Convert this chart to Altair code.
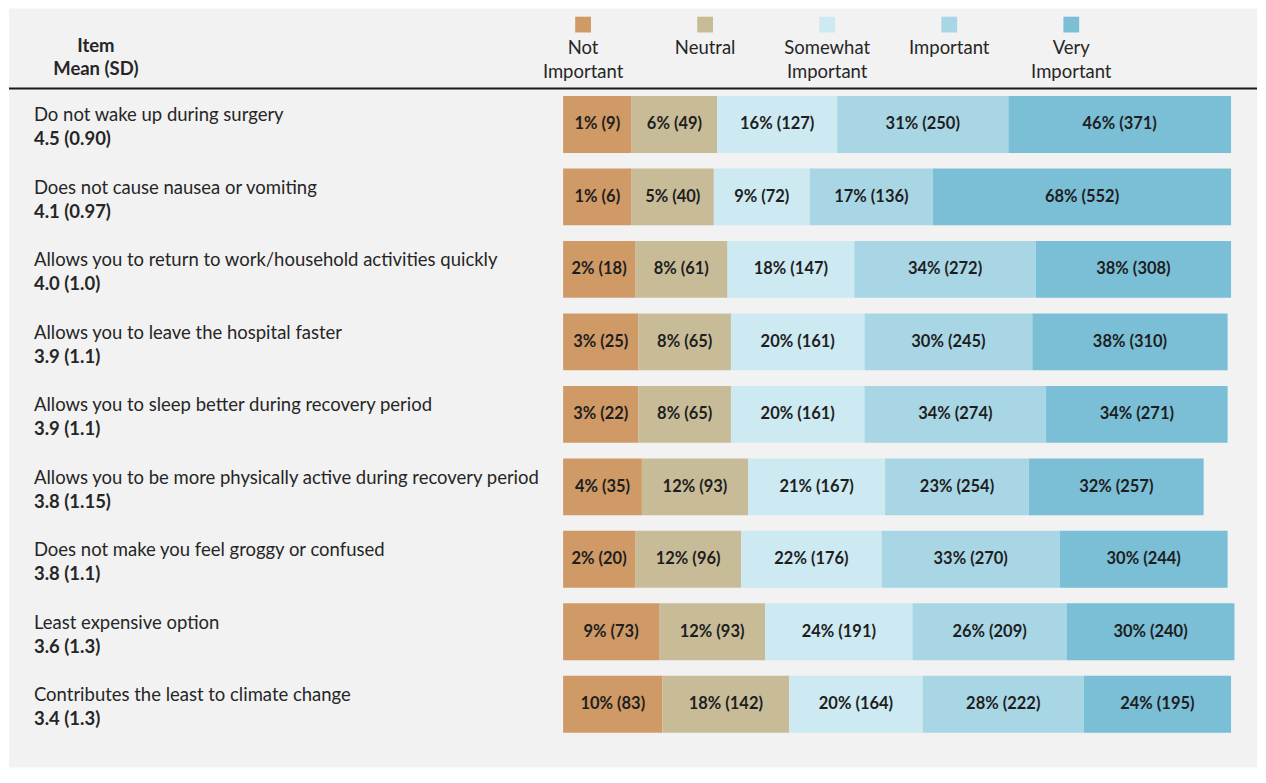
import altair as alt
import pandas as pd

# ---------------- data ----------------
items = [
    "Do not wake up during surgery",
    "Does not cause nausea or vomiting",
    "Allows you to return to work/household activities quickly",
    "Allows you to leave the hospital faster",
    "Allows you to sleep better during recovery period",
    "Allows you to be more physically active during recovery period",
    "Does not make you feel groggy or confused",
    "Least expensive option",
    "Contributes the least to climate change",
]
means = ["4.5 (0.90)", "4.1 (0.97)", "4.0 (1.0)", "3.9 (1.1)", "3.9 (1.1)",
         "3.8 (1.15)", "3.8 (1.1)", "3.6 (1.3)", "3.4 (1.3)"]
levels = ["Not Important", "Neutral", "Somewhat Important", "Important", "Very Important"]
legend_labels = ["Not\nImportant", "Neutral", "Somewhat\nImportant", "Important", "Very\nImportant"]
pct = [
    [1, 6, 16, 31, 46],
    [1, 5, 9, 17, 68],
    [2, 8, 18, 34, 38],
    [3, 8, 20, 30, 38],
    [3, 8, 20, 34, 34],
    [4, 12, 21, 23, 32],
    [2, 12, 22, 33, 30],
    [9, 12, 24, 26, 30],
    [10, 18, 20, 28, 24],
]
counts = [
    [9, 49, 127, 250, 371],
    [6, 40, 72, 136, 552],
    [18, 61, 147, 272, 308],
    [25, 65, 161, 245, 310],
    [22, 65, 161, 274, 271],
    [35, 93, 167, 254, 257],
    [20, 96, 176, 270, 244],
    [73, 93, 191, 209, 240],
    [83, 142, 164, 222, 195],
]
colors = ["#CF9A66", "#C8BC98", "#CDE9F1", "#A9D6E5", "#7ABFD6"]

# ---------------- styling ----------------
W, H = 1250, 760
FONT = "Lato"
MIN_W = 19            # every segment gets a minimum width, as in the original graphic
BAR_LEFT, BAR_RIGHT = 555, 1224   # pixel span of the bars
TOTAL = 100 + 5 * MIN_W
span = TOTAL * W / (BAR_RIGHT - BAR_LEFT)
x_d0 = -BAR_LEFT / W * span
x_d1 = x_d0 + span

# legend: first entry centred at LEG_FIRST px, last at LEG_LAST px
LEG_FIRST, LEG_LAST = 575, 1064
leg_step = (LEG_LAST - LEG_FIRST) / 4
leg_d0 = -LEG_FIRST / leg_step
leg_d1 = leg_d0 + W / leg_step

rows = []
for i, it in enumerate(items):
    for j, lv in enumerate(levels):
        rows.append({"item": it, "mean": means[i], "level": lv, "idx": j,
                     "pct": pct[i][j], "n": counts[i][j],
                     "label": f"{pct[i][j]}% ({counts[i][j]})"})
df = pd.DataFrame(rows)
items_df = pd.DataFrame({"item": items, "mean": means})
leg_df = pd.DataFrame({"level": levels, "lab": legend_labels, "idx": list(range(len(levels)))})

color_scale = alt.Scale(domain=levels, range=colors)
y_enc = alt.Y("item:N", sort=items, axis=None,
              scale=alt.Scale(paddingInner=0.215, paddingOuter=0.842, align=0.716))

base = (alt.Chart(df)
        .transform_calculate(disp=f"datum.pct + {MIN_W}")
        .transform_stack(stack="disp", as_=["x0", "x1"], groupby=["item"],
                         sort=[alt.SortField("idx", order="ascending")])
        .transform_calculate(xm="(datum.x0 + datum.x1) / 2"))

x_scale = alt.Scale(domain=[x_d0, x_d1], nice=False, zero=False)

bars = base.mark_bar(stroke=None).encode(
    x=alt.X("x0:Q", scale=x_scale, axis=None),
    x2="x1:Q",
    y=y_enc,
    color=alt.Color("level:N", scale=color_scale, legend=None),
)
seg_text = base.mark_text(font=FONT, fontSize=16.5, fontWeight="bold", color="#1e1e1e").encode(
    x=alt.X("xm:Q", scale=x_scale, axis=None),
    y=y_enc,
    text="label:N",
)

item_text = alt.Chart(items_df).mark_text(
    font=FONT, fontSize=18.5, align="left", baseline="middle", dy=-9, color="#262626"
).encode(x=alt.value(25), y=y_enc, text="item:N")
mean_text = alt.Chart(items_df).mark_text(
    font=FONT, fontSize=18.5, fontWeight="bold", align="left", baseline="middle", dy=15, color="#262626"
).encode(x=alt.value(25), y=y_enc, text="mean:N")

leg_x = alt.X("idx:Q", axis=None, scale=alt.Scale(domain=[leg_d0, leg_d1], nice=False, zero=False))
leg_sq = alt.Chart(leg_df).mark_square(size=250, opacity=1).encode(
    x=leg_x, y=alt.value(16),
    color=alt.Color("level:N", scale=color_scale, legend=None),
)
leg_txt = alt.Chart(leg_df).mark_text(
    font=FONT, fontSize=18.5, baseline="top", align="center", lineBreak="\n",
    lineHeight=25, color="#262626"
).encode(x=leg_x, y=alt.value(30), text="lab:N")

header = alt.Chart(pd.DataFrame({"t": ["Item\nMean (SD)"]})).mark_text(
    font=FONT, fontSize=18.5, fontWeight="bold", baseline="top", align="center",
    lineBreak="\n", lineHeight=24, color="#262626"
).encode(x=alt.value(87), y=alt.value(28), text="t:N")

rule = alt.Chart(pd.DataFrame({"a": [0]})).mark_rule(color="#1a1a1a", strokeWidth=2).encode(
    x=alt.value(0), x2=alt.value(W), y=alt.value(80)
)

chart = (alt.layer(bars, seg_text, item_text, mean_text, leg_sq, leg_txt, header, rule)
         .resolve_scale(x="independent")
         .properties(width=W, height=H, padding=0, background="white")
         .configure_view(fill="#F2F2F2", stroke=None))

chart.save("out.html", embed_options={"renderer": "svg", "actions": False})
